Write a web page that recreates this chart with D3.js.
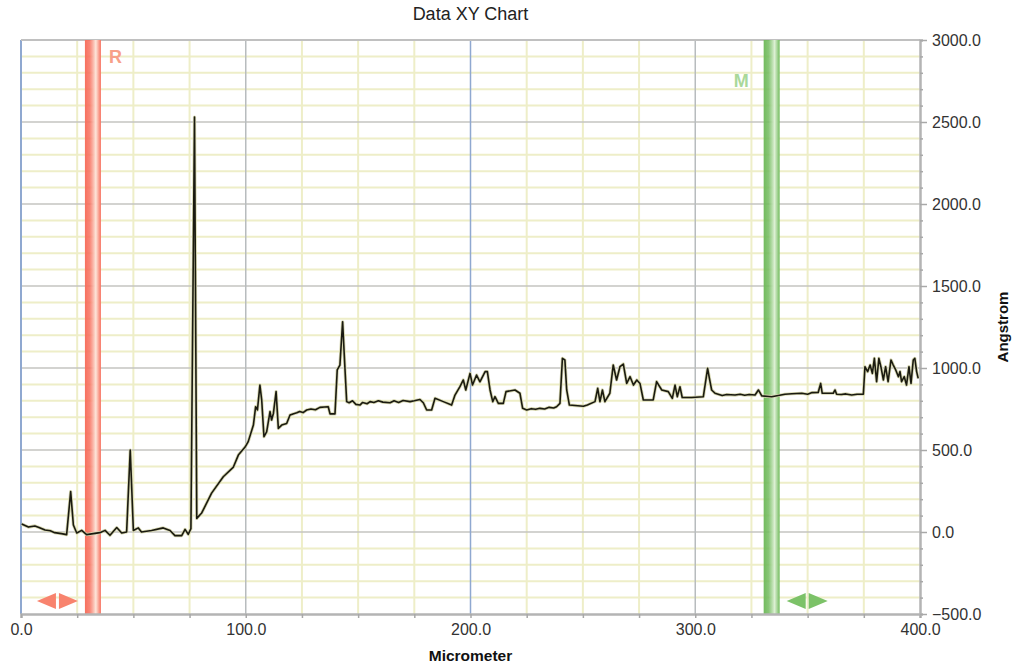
<!DOCTYPE html>
<html>
<head>
<meta charset="utf-8">
<script src="https://cdn.jsdelivr.net/npm/d3@7"></script>
<style>
  body { margin: 0; background: #fff; }
  text { font-family: "Liberation Sans", Arial, sans-serif; }
</style>
</head>
<body>
<svg width="1014" height="666"></svg>
<script>
// profile data: x in micrometer, y in angstrom
var xs = [0.3, 3.3, 6.2, 8, 10.7, 13, 15, 18, 20.3, 22.1, 23.3, 24.8, 27, 29.2, 35.1, 37.4, 39.6, 42.6, 44.8, 47, 48.6, 50, 52.2, 53.6, 58.1, 63.3, 66.3, 68.5, 71.5, 73, 74.4, 75.6, 77.2, 78.2, 80.4, 84.8, 90, 94.5, 96.7, 99.7, 101.1, 103.4, 104.4, 105.2, 106.3, 107.1, 108.1, 109.3, 110.8, 111.5, 112.3, 113.5, 114.5, 116, 118.2, 119.7, 121, 122.7, 124, 125.5, 127.1, 129, 131, 133, 135, 136.7, 137.5, 139.7, 140.7, 141.9, 143.1, 143.9, 144.9, 146, 147.5, 149, 150.8, 152, 154, 155.3, 157, 159, 161, 164.2, 166, 168, 170, 173.1, 175, 177.5, 179, 180.5, 182.7, 184.2, 187.9, 191.6, 193.1, 195.3, 196.8, 197.9, 199.8, 200.9, 202.7, 204.2, 206.5, 207.5, 208.7, 209.9, 210.9, 212.4, 214.6, 215.8, 219.8, 222, 223.2, 225, 227, 229, 230.9, 233, 235, 237, 238.3, 239.8, 240.9, 242, 242.8, 244, 250.2, 252, 255.4, 256.6, 257.6, 258.7, 259.8, 262, 263.5, 265, 266.5, 268, 269.5, 271, 272.5, 274, 275.4, 276.9, 281.3, 282.8, 285.1, 288, 289.8, 291, 292, 293.2, 294.2, 298.4, 303.6, 305.5, 306.3, 307.3, 308.8, 310.2, 312, 314, 317.7, 320, 322, 324, 326.6, 328.1, 329.6, 334, 339.9, 343, 347.4, 350, 352, 354.7, 355.8, 356.5, 361.4, 362.2, 362.9, 365, 367, 369.6, 372, 374.8, 375.5, 376.7, 377.8, 378.8, 379.7, 380.7, 381.7, 382.6, 383.7, 384.7, 385.8, 387.1, 388.1, 389.2, 390.4, 391.1, 391.8, 393, 394, 395.1, 396, 397, 397.7, 398.5, 399.2];
var ys = [49, 30, 37, 28, 12, 8, -4, -10, -16, 246, 43, -6, 10, -16, -4, 10, -20, 27, -6, 0, 500, 9, 25, 0, 9, 25, 9, -22, -22, 16, -14, 20, 2530, 83, 116, 237, 337, 396, 469, 518, 551, 652, 764, 744, 896, 805, 581, 611, 734, 683, 723, 856, 632, 652, 662, 713, 720, 727, 735, 728, 744, 750, 745, 760, 762, 764, 720, 720, 988, 1018, 1282, 1061, 795, 788, 800, 778, 774, 790, 782, 795, 790, 800, 792, 788, 800, 790, 802, 795, 800, 808, 788, 744, 744, 815, 795, 774, 835, 886, 927, 866, 967, 896, 957, 916, 978, 978, 866, 795, 825, 784, 784, 856, 866, 846, 754, 744, 752, 748, 754, 750, 760, 756, 764, 784, 1059, 1049, 866, 774, 767, 775, 795, 876, 795, 866, 795, 846, 1018, 927, 1008, 1024, 906, 947, 896, 927, 906, 805, 805, 917, 866, 856, 815, 896, 825, 886, 820, 820, 825, 998, 937, 866, 846, 840, 832, 838, 835, 840, 834, 838, 835, 866, 830, 825, 840, 843, 846, 840, 850, 851, 906, 846, 846, 866, 840, 838, 842, 835, 840, 840, 1008, 978, 1018, 967, 1059, 917, 1059, 1008, 927, 1008, 917, 1049, 1018, 988, 947, 978, 917, 947, 896, 1008, 906, 1049, 1059, 978, 937];

var xTicks = [0, 100, 200, 300, 400];
var yTicks = [-500, 0, 500, 1000, 1500, 2000, 2500, 3000];
var markerNames = ["R", "M"];
var markerValues = [32, 334];

var svg = d3.select("svg"),
    mL = 21, mR = 920, mT = 40, mB = 614;

var x = d3.scaleLinear().domain([0, 400]).range([mL, mR]);
var y = d3.scaleLinear().domain([-500, 3000]).range([mB, mT]);

var defs = svg.append("defs");
var bandCols = [["#f7705e", "#fde6da"], ["#72bb5e", "#ddf0d4"]];
bandCols.forEach(function (c, i) {
  var gr = defs.append("linearGradient").attr("id", "band" + i)
    .attr("x1", "0%").attr("x2", "100%").attr("y1", "0%").attr("y2", "0%");
  gr.append("stop").attr("offset", "0%").attr("stop-color", c[0]);
  gr.append("stop").attr("offset", "30%").attr("stop-color", c[0]).attr("stop-opacity", 0.85);
  gr.append("stop").attr("offset", "68%").attr("stop-color", c[1]);
  gr.append("stop").attr("offset", "100%").attr("stop-color", c[0]);
});

// minor grid
var g = svg.append("g");
g.selectAll(".vmin").data(d3.range(0, 401, 25).filter(function (d) { return d % 100; }))
  .enter().append("line")
  .attr("x1", function (d) { return x(d); }).attr("x2", function (d) { return x(d); })
  .attr("y1", mT).attr("y2", mB)
  .attr("stroke", "#eeeec8").attr("stroke-width", 2);
g.selectAll(".hmin").data(d3.range(-500, 3001, 100).filter(function (d) { return d % 500; }))
  .enter().append("line")
  .attr("x1", mL).attr("x2", mR)
  .attr("y1", function (d) { return y(d); }).attr("y2", function (d) { return y(d); })
  .attr("stroke", "#eeeec8").attr("stroke-width", 2);

// major grid
g.selectAll(".hmaj").data(yTicks.slice(1, -1))
  .enter().append("line")
  .attr("x1", mL).attr("x2", mR)
  .attr("y1", function (d) { return y(d); }).attr("y2", function (d) { return y(d); })
  .attr("stroke", "#c4c4c0").attr("stroke-width", 1.5);
g.selectAll(".vmaj").data(xTicks.slice(0, -1))
  .enter().append("line")
  .attr("x1", function (d) { return x(d); }).attr("x2", function (d) { return x(d); })
  .attr("y1", mT).attr("y2", mB)
  .attr("stroke", function (d) { return d % 200 === 0 ? "#8fa8d0" : "#b8bcbe"; })
  .attr("stroke-width", function (d) { return d === 0 ? 2 : 1.5; });

// top border
svg.append("line").attr("x1", mL).attr("x2", mR).attr("y1", mT).attr("y2", mT)
  .attr("stroke", "#c0c0c0").attr("stroke-width", 2);

// marker bands
markerValues.forEach(function (v, i) {
  svg.append("rect").attr("x", x(v) - 8).attr("y", mT).attr("width", 16)
    .attr("height", mB - mT).attr("fill", "url(#band" + i + ")");
});

// axes
var xAxis = d3.axisBottom(x).tickValues(d3.range(0, 401, 25))
  .tickFormat(function (d) { return d % 100 ? "" : d3.format(".1f")(d); })
  .tickSize(4).tickPadding(6);
var xa = svg.append("g").attr("transform", "translate(0," + mB + ")").call(xAxis);
xa.select(".domain").attr("stroke", "#b4b4b4").attr("stroke-width", 2.5);
xa.selectAll(".tick line").attr("stroke", "#a8a8a8").attr("stroke-width", 1.5);
xa.selectAll("text").attr("font-size", 16).attr("fill", "#333")
  .attr("font-family", "'Liberation Sans', Arial, sans-serif");

var yAxis = d3.axisRight(y).tickValues(d3.range(-500, 3001, 100))
  .tickFormat(function (d) { return d % 500 ? "" : d3.format(".1f")(d); })
  .tickSize(3).tickPadding(9);
var ya = svg.append("g").attr("transform", "translate(" + mR + ",0)").call(yAxis);
ya.select(".domain").attr("stroke", "#b4b4b4").attr("stroke-width", 2.5);
ya.selectAll(".tick line").attr("stroke", "#a8a8a8").attr("stroke-width", 1.5)
  .attr("x2", function (d) { return d % 500 ? 3 : 7; });
ya.selectAll("text").attr("font-size", 16).attr("fill", "#333")
  .attr("font-family", "'Liberation Sans', Arial, sans-serif");

// data line
var pts = xs.map(function (d, i) { return [d, ys[i]]; });
var line = d3.line().x(function (d) { return x(d[0]); }).y(function (d) { return y(d[1]); });
svg.append("path").datum(pts).attr("d", line)
  .attr("fill", "none").attr("stroke", "#d6d6b0").attr("stroke-width", 3.2).attr("stroke-linejoin", "round");
svg.append("path").datum(pts).attr("d", line)
  .attr("fill", "none").attr("stroke", "#1a1a10").attr("stroke-width", 1.6).attr("stroke-linejoin", "round");

// marker labels and arrows
var labelCols = ["#f7a088", "#a9d89a"];
var arrowCols = ["#f8836e", "#7cc268"];
var labelDx = [16, -38], labelY = [63, 87], arrowDx = [-56, 15];
markerValues.forEach(function (v, i) {
  var cx = x(v);
  svg.append("text").attr("x", cx + labelDx[i]).attr("y", labelY[i])
    .attr("font-size", 18).attr("font-weight", "bold").attr("fill", labelCols[i])
    .text(markerNames[i]);
  var ax = cx + arrowDx[i], ay = 601;
  svg.append("path").attr("d", "M" + ax + "," + ay + "L" + (ax + 19) + "," + (ay - 8) + "L" + (ax + 19) + "," + (ay + 8) + "Z")
    .attr("fill", arrowCols[i]);
  svg.append("path").attr("d", "M" + (ax + 41) + "," + ay + "L" + (ax + 22) + "," + (ay - 8) + "L" + (ax + 22) + "," + (ay + 8) + "Z")
    .attr("fill", arrowCols[i]);
});

// titles
svg.append("text").attr("x", (mL + mR) / 2).attr("y", 20).attr("text-anchor", "middle")
  .attr("font-size", 18).attr("fill", "#222").text("Data XY Chart");
svg.append("text").attr("x", (mL + mR) / 2).attr("y", 661).attr("text-anchor", "middle")
  .attr("font-size", 15.5).attr("font-weight", "bold").attr("fill", "#111").text("Micrometer");
svg.append("text").attr("transform", "translate(1008," + (mT + mB) / 2 + ") rotate(-90)")
  .attr("text-anchor", "middle").attr("font-size", 15).attr("font-weight", "bold")
  .attr("fill", "#111").text("Angstrom");
</script>
</body>
</html>
